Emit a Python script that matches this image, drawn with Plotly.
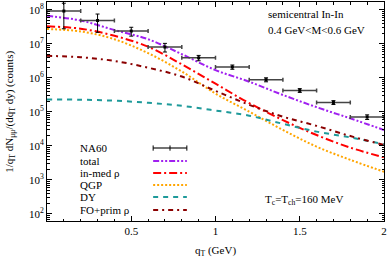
import plotly.graph_objects as go

# ---- data ----
qT_data = [0.1, 0.3, 0.5, 0.7, 0.9, 1.1, 1.3, 1.5, 1.7, 1.9]
na60 = [9.3e7, 4.9e7, 2.4e7, 8.1e6, 3.9e6, 2.1e6, 8.9e5, 4.3e5, 1.9e5, 7.1e4]
na60_err = [6.5e7, 2.7e7, 0.7e7, 2.3e6, 0.7e6, 0.3e6, 1.2e5, 0.55e5, 0.25e5, 1.1e4]
qT_bin_half = 0.1

qT = [0.0, 0.2, 0.4, 0.6, 0.8, 1.0, 1.2, 1.4, 1.6, 1.8, 2.0]
total = [6.76e7, 4.90e7, 2.57e7, 1.38e7, 5.01e6, 1.70e6, 7.76e5, 3.16e5, 1.38e5, 6.46e4, 2.95e4]
inmed_rho = [3.31e7, 2.82e7, 1.74e7, 8.32e6, 2.51e6, 6.76e5, 1.82e5, 5.75e4, 2.09e4, 8.9e3, 4.57e3]
qgp = [2.75e7, 2.34e7, 1.38e7, 5.37e6, 1.55e6, 3.47e5, 1.02e5, 2.95e4, 9.5e3, 3.89e3, 1.74e3]
dy = [2.34e5, 2.29e5, 2.14e5, 1.86e5, 1.51e5, 1.10e5, 7.76e4, 4.47e4, 2.63e4, 1.78e4, 1.12e4]
fo_prim = [4.47e6, 4.07e6, 3.16e6, 2.0e6, 1.10e6, 4.17e5, 1.62e5, 7.24e4, 3.89e4, 1.95e4, 1.07e4]

y_tickvals = [1e2, 1e3, 1e4, 1e5, 1e6, 1e7, 1e8]
y_ticktext = ["10<sup>2</sup>", "10<sup>3</sup>", "10<sup>4</sup>", "10<sup>5</sup>",
              "10<sup>6</sup>", "10<sup>7</sup>", "10<sup>8</sup>"]
x_tickvals = [0.5, 1.0, 1.5, 2.0]
x_ticktext = ["0.5", "1", "1.5", "2"]

FONT = "Liberation Serif"

styles = [
    ("total", total, "#a020f0", "6px,2px,2px,2px,2px,2px"),
    ("in-med ρ", inmed_rho, "#ff0000", "8px,3px,2px,3px"),
    ("QGP", qgp, "#ffa500", "2px,2px"),
    ("DY", dy, "#1e9a9a", "5px,5px"),
    ("FO+prim ρ", fo_prim, "#8b0000", "5px,4px,2px,4px"),
]

fig = go.Figure()
for name, ys, col, dash in styles:
    fig.add_trace(go.Scatter(x=qT, y=ys, mode="lines", name=name,
                             line=dict(color=col, width=2, dash=dash, shape="spline"),
                             showlegend=False))

fig.add_trace(go.Scatter(
    x=qT_data, y=na60, mode="markers", name="NA60", showlegend=False,
    marker=dict(symbol="square", size=3, color="black"),
    error_x=dict(type="constant", value=qT_bin_half, color="#444444", thickness=1.5, width=2),
    error_y=dict(type="data", array=na60_err, color="black", thickness=1, width=2),
))

minor_y = [m * 10 ** e for e in range(1, 9) for m in range(2, 10)]

fig.update_xaxes(range=[0, 2], tickvals=x_tickvals, ticktext=x_ticktext,
                 ticks="inside", ticklen=5, tickcolor="black", mirror="allticks",
                 showline=True, linecolor="black", linewidth=1, showgrid=False,
                 zeroline=False, automargin=False, ticklabeloverflow="allow",
                 minor=dict(ticks="inside", ticklen=2.5, dtick=0.1, tickcolor="black"),
                 tickfont=dict(family=FONT, size=11, color="black"))
fig.update_yaxes(type="log", range=[1.79, 8.235], tickvals=y_tickvals, ticktext=y_ticktext,
                 ticks="inside", ticklen=5, tickcolor="black", mirror="allticks",
                 showline=True, linecolor="black", linewidth=1, showgrid=False,
                 automargin=False, ticklabeloverflow="allow",
                 minor=dict(ticks="inside", ticklen=2.5, tickvals=minor_y, tickcolor="black"),
                 tickfont=dict(family=FONT, size=11, color="black"))

rows_y = [0.333, 0.274, 0.219, 0.164, 0.110, 0.050]
labels = ["NA60"] + [s[0] for s in styles]
ann = []
for lab, yy in zip(labels, rows_y):
    ann.append(dict(x=0.092, y=yy, xref="paper", yref="paper", text=lab, showarrow=False,
                    xanchor="left", yanchor="middle",
                    font=dict(family=FONT, size=11, color="black")))
shapes = []
x0, x1 = 0.315, 0.415
shapes.append(dict(type="line", xref="paper", yref="paper", x0=x0, x1=x1, y0=rows_y[0], y1=rows_y[0],
                   line=dict(color="#444444", width=1.5)))
for xx in [x0, (x0 + x1) / 2, x1]:
    shapes.append(dict(type="line", xref="paper", yref="paper", x0=xx, x1=xx,
                       y0=rows_y[0] - 0.012, y1=rows_y[0] + 0.012, line=dict(color="black", width=1)))
for (name, ys, col, dash), yy in zip(styles, rows_y[1:]):
    shapes.append(dict(type="line", xref="paper", yref="paper", x0=x0, x1=x1, y0=yy, y1=yy,
                       line=dict(color=col, width=2, dash=dash)))

def txt(x, y, t, **kw):
    d = dict(x=x, y=y, xref="paper", yref="paper", text=t, showarrow=False,
             xanchor="left", yanchor="middle", font=dict(family=FONT, size=11, color="black"))
    d.update(kw)
    return d

ann.append(txt(0.65, 0.945, "semicentral In-In"))
ann.append(txt(0.65, 0.872, "0.4 GeV&lt;M&lt;0.6 GeV"))
ann.append(txt(0.641, 0.096, "T<sub>c</sub>=T<sub>ch</sub>=160 MeV"))
ann.append(txt(0.50, -0.135, "q<sub>T</sub> (GeV)", xanchor="center"))
ann.append(txt(-0.112, 0.5, "1/q<sub>T</sub> dN<sub>μμ</sub>/(dq<sub>T</sub> dy) (counts)",
               xanchor="center", textangle=-90))

fig.update_layout(width=390, height=260, margin=dict(l=47, r=6, t=2, b=39),
                  paper_bgcolor="white", plot_bgcolor="white",
                  annotations=ann, shapes=shapes, showlegend=False,
                  font=dict(family=FONT, size=11, color="black"))

fig.write_html("out.html", config={"displayModeBar": False},
               post_script="document.body.style.margin='0';document.body.style.padding='0';")
